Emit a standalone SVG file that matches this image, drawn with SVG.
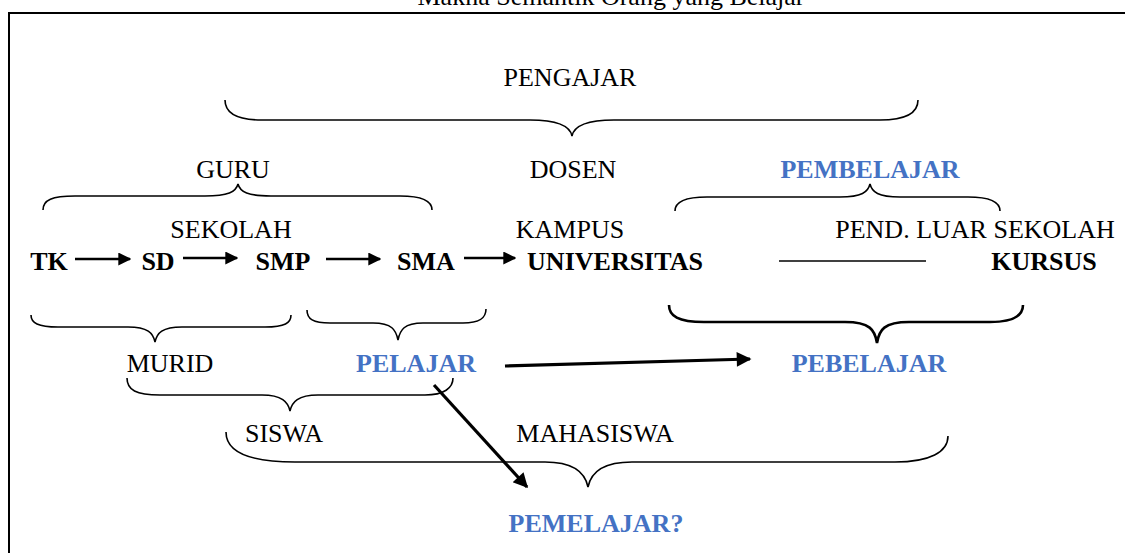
<svg xmlns="http://www.w3.org/2000/svg" width="1125" height="553" viewBox="0 0 1125 553">
<defs>
<style>
text{font-family:"Liberation Serif","Times New Roman",serif;font-size:26px;fill:#000}
.b{font-weight:bold}
.blue{fill:#4472C4;font-weight:bold}
.brace{fill:none;stroke:#000;stroke-width:1.6}
.thick{stroke-width:2.6}
.conn{stroke:#000;stroke-width:2.6;fill:none}
.conn2{stroke:#000;stroke-width:3.2;fill:none}
</style>
<marker id="ah" viewBox="0 0 10 10" refX="9" refY="5" markerWidth="5" markerHeight="5" markerUnits="strokeWidth" orient="auto">
<path d="M0,0 L10,5 L0,10 Z" fill="#000"/>
</marker>
<marker id="ah2" viewBox="0 0 10 10" refX="9" refY="5" markerWidth="6" markerHeight="4.6" markerUnits="strokeWidth" orient="auto">
<path d="M0,0 L10,5 L0,10 Z" fill="#000"/>
</marker>
</defs>
<rect width="1125" height="553" fill="#fff"/>
<g id="frame">
<text x="611" y="5" text-anchor="middle">Makna Semantik Orang yang Belajar</text>
<path d="M9,553 L9,13 L1125,13" fill="none" stroke="#000" stroke-width="2"/>
</g>
<g id="n-pengajar"><text x="570" y="86" text-anchor="middle">PENGAJAR</text></g>
<g id="n-guru"><text x="233" y="178" text-anchor="middle">GURU</text></g>
<g id="n-dosen"><text x="573" y="178" text-anchor="middle">DOSEN</text></g>
<g id="n-pembelajar"><text class="blue" x="870" y="178" text-anchor="middle">PEMBELAJAR</text></g>
<g id="n-sekolah"><text x="231" y="238" text-anchor="middle">SEKOLAH</text></g>
<g id="n-kampus"><text x="570" y="238" text-anchor="middle">KAMPUS</text></g>
<g id="n-pls"><text x="975" y="238" text-anchor="middle">PEND. LUAR SEKOLAH</text></g>
<g id="n-tk"><text class="b" x="49" y="270" text-anchor="middle">TK</text></g>
<g id="n-sd"><text class="b" x="158" y="270" text-anchor="middle">SD</text></g>
<g id="n-smp"><text class="b" x="283" y="270" text-anchor="middle">SMP</text></g>
<g id="n-sma"><text class="b" x="426" y="270" text-anchor="middle">SMA</text></g>
<g id="n-univ"><text class="b" x="615" y="270" text-anchor="middle">UNIVERSITAS</text></g>
<g id="n-kursus"><text class="b" x="1044" y="270" text-anchor="middle">KURSUS</text></g>
<g id="n-murid"><text x="170" y="372" text-anchor="middle">MURID</text></g>
<g id="n-pelajar"><text class="blue" x="416" y="372" text-anchor="middle">PELAJAR</text></g>
<g id="n-pebelajar"><text class="blue" x="869" y="372" text-anchor="middle">PEBELAJAR</text></g>
<g id="n-siswa"><text x="284" y="442" text-anchor="middle">SISWA</text></g>
<g id="n-mahasiswa"><text x="595" y="442" text-anchor="middle">MAHASISWA</text></g>
<g id="n-pemelajar"><text class="blue" x="596" y="532" text-anchor="middle">PEMELAJAR?</text></g>
<g id="braces">
<path class="brace" d="M225,100 C225,112 235,120 262,120 L530,120 C558,120 570,126 572,136 C574,126 586,120 614,120 L880,120 C908,120 918,112 918,100"/>
<path class="brace" d="M43,210 C43,200 52,196 75,196 L205,196 C228,196 236,192 238,184 C240,192 248,196 271,196 L400,196 C424,196 432,202 432,210"/>
<path class="brace" d="M675,211 C675,202 684,197 707,197 L840,197 C862,197 868,192 870,184 C872,192 878,197 900,197 L968,197 C992,197 1000,203 1000,211"/>
<path class="brace" d="M31,315 C31,323 38,327 58,327 L128,327 C148,327 153,333 155,342 C157,333 162,327 182,327 L265,327 C285,327 291,323 291,315"/>
<path class="brace" d="M307,310 C307,319 313,323 330,323 L373,323 C392,323 396,330 398,340 C400,330 404,323 423,323 L463,323 C480,323 486,318 486,309"/>
<path class="brace thick" d="M669,305 C669,316 678,322 704,322 L845,322 C870,322 875,330 877,343 C879,330 884,322 909,322 L990,322 C1016,322 1023,314 1023,305"/>
<path class="brace" d="M127,378 C127,390 136,395 160,395 L262,395 C282,395 288,402 290,411 C292,402 298,395 318,395 L425,395 C444,395 453,388 453,378"/>
<path class="brace" d="M226,432 C226,452 250,462 295,462 L545,462 C572,462 585,472 588,487 C591,472 604,462 632,462 L895,462 C930,462 948,452 948,436"/>
</g>
<g id="connectors">
<line class="conn" x1="75" y1="259" x2="130" y2="259" marker-end="url(#ah)"/>
<line class="conn" x1="183" y1="258" x2="237" y2="258" marker-end="url(#ah)"/>
<line class="conn" x1="326" y1="259" x2="380" y2="259" marker-end="url(#ah)"/>
<line class="conn" x1="464" y1="258" x2="515" y2="258" marker-end="url(#ah)"/>
<line x1="779" y1="261" x2="926" y2="261" stroke="#000" stroke-width="1.6"/>
<line class="conn2" x1="505" y1="366" x2="750" y2="359" marker-end="url(#ah2)"/>
<line class="conn2" x1="434" y1="385" x2="527" y2="487" marker-end="url(#ah2)"/>
</g>
</svg>
